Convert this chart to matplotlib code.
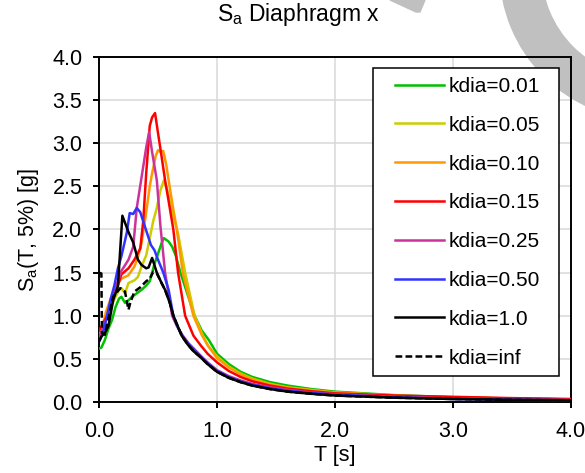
import matplotlib
matplotlib.use("Agg")
import matplotlib.pyplot as plt
from matplotlib.patches import Rectangle, Wedge, Polygon

plt.rcParams['font.family'] = ['Liberation Sans', 'DejaVu Sans']
plt.rcParams['mathtext.default'] = 'regular'

# spectra: T [s] and Sa [g] per kdia
t_001 = [0.0, 0.02, 0.05, 0.08, 0.11, 0.14, 0.17, 0.19, 0.22, 0.25, 0.28, 0.32, 0.36, 0.40, 0.43,
         0.47, 0.50, 0.53, 0.55, 0.59, 0.62, 0.65, 0.69, 0.75, 0.81, 0.87, 0.93, 1.0, 1.1, 1.2,
         1.3, 1.45, 1.6, 1.8, 2.0, 2.5, 3.0, 3.5, 4.0]
sa_001 = [0.62, 0.63, 0.72, 0.85, 0.95, 1.10, 1.20, 1.22, 1.15, 1.18, 1.22, 1.26, 1.30, 1.35, 1.40,
          1.60, 1.72, 1.84, 1.90, 1.86, 1.80, 1.70, 1.50, 1.25, 1.00, 0.83, 0.72, 0.56, 0.44, 0.35,
          0.29, 0.23, 0.19, 0.15, 0.12, 0.08, 0.055, 0.04, 0.03]

t_005 = [0.0, 0.03, 0.06, 0.10, 0.14, 0.17, 0.19, 0.22, 0.25, 0.30, 0.33, 0.36, 0.40, 0.43, 0.46,
         0.49, 0.52, 0.55, 0.58, 0.62, 0.67, 0.73, 0.81, 0.88, 0.93, 1.0, 1.1, 1.2, 1.3, 1.45,
         1.6, 1.8, 2.0, 2.5, 3.0, 3.5, 4.0]
sa_005 = [0.75, 0.85, 1.00, 1.10, 1.22, 1.30, 1.32, 1.26, 1.38, 1.41, 1.45, 1.57, 1.70, 1.90, 2.10,
          2.25, 2.45, 2.57, 2.45, 2.20, 1.95, 1.50, 1.00, 0.77, 0.64, 0.53, 0.41, 0.33, 0.27, 0.21,
          0.17, 0.14, 0.11, 0.075, 0.05, 0.04, 0.03]

t_010 = [0.0, 0.03, 0.06, 0.10, 0.15, 0.19, 0.22, 0.25, 0.30, 0.33, 0.36, 0.40, 0.43, 0.45, 0.48,
         0.50, 0.52, 0.545, 0.57, 0.59, 0.63, 0.66, 0.71, 0.80, 0.87, 0.92, 1.0, 1.1, 1.2, 1.3,
         1.45, 1.6, 1.8, 2.0, 2.5, 3.0, 3.5, 4.0]
sa_010 = [0.78, 0.88, 1.05, 1.20, 1.35, 1.43, 1.45, 1.47, 1.57, 1.68, 1.84, 2.20, 2.50, 2.65, 2.85,
          2.92, 2.90, 2.91, 2.75, 2.57, 2.23, 2.00, 1.50, 1.00, 0.78, 0.66, 0.51, 0.40, 0.32, 0.26,
          0.20, 0.165, 0.13, 0.11, 0.075, 0.05, 0.04, 0.03]

t_015 = [0.0, 0.03, 0.08, 0.12, 0.16, 0.19, 0.25, 0.30, 0.35, 0.375, 0.40, 0.43, 0.45, 0.475, 0.50,
         0.53, 0.56, 0.59, 0.63, 0.67, 0.73, 0.80, 0.86, 0.92, 1.0, 1.1, 1.2, 1.3, 1.45, 1.6,
         1.8, 2.0, 2.5, 3.0, 3.5, 4.0]
sa_015 = [0.83, 0.90, 1.03, 1.22, 1.35, 1.48, 1.55, 1.65, 1.78, 2.10, 2.65, 3.20, 3.30, 3.35, 3.12,
          2.85, 2.57, 2.33, 2.00, 1.50, 1.00, 0.77, 0.66, 0.56, 0.46, 0.36, 0.29, 0.24, 0.19, 0.155,
          0.125, 0.10, 0.075, 0.06, 0.045, 0.035]

t_025 = [0.0, 0.03, 0.07, 0.12, 0.16, 0.19, 0.25, 0.29, 0.32, 0.36, 0.40, 0.425, 0.45, 0.49, 0.52,
         0.56, 0.62, 0.66, 0.71, 0.76, 0.81, 0.86, 0.92, 1.0, 1.1, 1.2, 1.3, 1.45, 1.6, 1.8,
         2.0, 2.5, 3.0, 3.5, 4.0]
sa_025 = [0.75, 0.85, 1.00, 1.25, 1.40, 1.52, 1.65, 1.80, 2.25, 2.60, 2.95, 3.13, 2.90, 2.57, 2.05,
          1.50, 1.00, 0.88, 0.77, 0.68, 0.61, 0.54, 0.46, 0.37, 0.30, 0.25, 0.21, 0.17, 0.14, 0.11,
          0.09, 0.06, 0.04, 0.03, 0.025]

t_050 = [0.0, 0.03, 0.06, 0.10, 0.13, 0.16, 0.19, 0.235, 0.26, 0.29, 0.32, 0.35, 0.39, 0.44, 0.47,
         0.50, 0.545, 0.59, 0.63, 0.67, 0.71, 0.76, 0.81, 0.86, 0.92, 1.0, 1.1, 1.2, 1.3, 1.45,
         1.6, 1.8, 2.0, 2.5, 3.0, 3.5, 4.0]
sa_050 = [0.70, 0.78, 0.95, 1.20, 1.35, 1.55, 1.69, 1.96, 2.19, 2.18, 2.25, 2.20, 2.03, 1.82, 1.76,
          1.65, 1.50, 1.30, 1.00, 0.86, 0.76, 0.67, 0.60, 0.53, 0.45, 0.36, 0.29, 0.24, 0.20, 0.16,
          0.13, 0.105, 0.085, 0.055, 0.035, 0.025, 0.02]

t_100 = [0.0, 0.02, 0.05, 0.08, 0.12, 0.16, 0.198, 0.25, 0.29, 0.33, 0.36, 0.40, 0.42, 0.45, 0.49,
         0.53, 0.56, 0.60, 0.63, 0.67, 0.70, 0.75, 0.80, 0.86, 0.92, 1.0, 1.1, 1.2, 1.3, 1.45,
         1.6, 1.8, 2.0, 2.5, 3.0, 3.5, 4.0]
sa_100 = [0.70, 0.76, 0.80, 0.88, 1.18, 1.34, 2.16, 1.97, 1.85, 1.65, 1.59, 1.55, 1.56, 1.67, 1.50,
          1.38, 1.30, 1.15, 1.00, 0.87, 0.77, 0.67, 0.59, 0.52, 0.44, 0.35, 0.28, 0.23, 0.19, 0.15,
          0.12, 0.095, 0.075, 0.05, 0.035, 0.025, 0.02]

t_inf = [0.0, 0.02, 0.025, 0.05, 0.09, 0.12, 0.18, 0.22, 0.25, 0.265, 0.30, 0.35, 0.40, 0.43, 0.46,
         0.49, 0.53, 0.56, 0.60, 0.63, 0.67, 0.70, 0.75, 0.80, 0.86, 0.92, 1.0, 1.1, 1.2, 1.3,
         1.45, 1.6, 1.8, 2.0, 2.5, 3.0, 3.5, 4.0]
sa_inf = [1.50, 1.49, 0.80, 0.78, 1.03, 1.22, 1.32, 1.28, 1.07, 1.15, 1.28, 1.33, 1.40, 1.43, 1.51,
          1.49, 1.38, 1.30, 1.15, 1.00, 0.87, 0.77, 0.67, 0.59, 0.52, 0.44, 0.35, 0.28, 0.23, 0.19,
          0.15, 0.12, 0.095, 0.075, 0.05, 0.035, 0.025, 0.02]

series = [
    (t_001, sa_001, 'kdia=0.01', '#00c000', '-'),
    (t_005, sa_005, 'kdia=0.05', '#cccc00', '-'),
    (t_010, sa_010, 'kdia=0.10', '#ff9900', '-'),
    (t_015, sa_015, 'kdia=0.15', '#ff0000', '-'),
    (t_025, sa_025, 'kdia=0.25', '#cc3399', '-'),
    (t_050, sa_050, 'kdia=0.50', '#3333ff', '-'),
    (t_100, sa_100, 'kdia=1.0', '#000000', '-'),
    (t_inf, sa_inf, 'kdia=inf', '#000000', (0, (2.7, 1.3))),
]

W, H = 585, 473
fig = plt.figure(figsize=(W / 100, H / 100), dpi=100)

# gray ring in the top right corner of the picture
fig.patches.append(Wedge((650, H + 30), 150, 0, 360, width=41, color='#c0c0c0',
                         transform=None, zorder=-5))
fig.patches.append(Polygon([(390, H), (425, H), (420, H - 12), (416, H - 12)],
                           closed=True, color='#c0c0c0', transform=None, zorder=-5))

ax = fig.add_axes([99 / W, 1 - 402 / H, 472 / W, 345 / H])
ax.set_facecolor('none')

for t, sa, lab, col, ls in series:
    ax.plot(t, sa, color=col, lw=1.8, ls=ls, label=lab, zorder=3)

ax.set_xlim(0, 4)
ax.set_ylim(0, 4)
ax.set_xticks([0, 1, 2, 3, 4])
ax.set_xticklabels(['0.0', '1.0', '2.0', '3.0', '4.0'])
ax.set_yticks([0, 0.5, 1, 1.5, 2, 2.5, 3, 3.5, 4])
ax.set_yticklabels(['0.0', '0.5', '1.0', '1.5', '2.0', '2.5', '3.0', '3.5', '4.0'])
ax.grid(True, color='#d9d9d9', lw=1.1, zorder=0)
ax.set_axisbelow(True)
for s in ax.spines.values():
    s.set_linewidth(1.4)
    s.set_color('black')
ax.tick_params(direction='out', length=4, width=1.4, labelsize=15.5, pad=8, colors='black')
ax.tick_params(axis='x', pad=10)

ax.set_xlabel('T [s]', fontsize=15.5, labelpad=2)
ax.set_ylabel('S$_a$(T, 5%) [g]', fontsize=15.5, labelpad=8)
fig.text(298 / W, 1 - 15 / H, 'S$_a$ Diaphragm x', fontsize=16.5, ha='center', va='center')

# legend box
ax.add_patch(Rectangle((373 / W, 1 - 376 / H), 186 / W, 308 / H, transform=fig.transFigure,
                       facecolor='white', edgecolor='black', lw=1.1, zorder=4, clip_on=False))
leg = ax.legend(loc='upper left', bbox_to_anchor=(395 / W, 1 - 77 / H),
                bbox_transform=fig.transFigure, frameon=False, fontsize=15,
                borderpad=0, borderaxespad=0, handlelength=2.34, handletextpad=0.25,
                labelspacing=0.95)
leg.set_zorder(5)

fig.savefig('out.png', dpi=100)
